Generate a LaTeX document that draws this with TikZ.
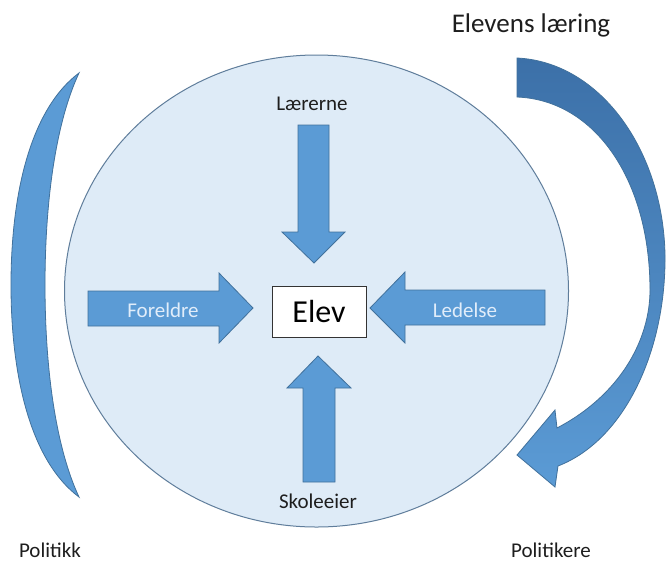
\documentclass[tikz,border=0pt]{standalone}
\usepackage{fontspec}
\setmainfont{Carlito}
\definecolor{circfill}{RGB}{222,235,247}
\definecolor{circline}{RGB}{95,125,155}
\definecolor{arrfill}{RGB}{91,155,213}
\definecolor{arrline}{RGB}{65,113,156}
\definecolor{arrdark}{RGB}{60,112,168}
\definecolor{lighttext}{RGB}{225,237,250}
\definecolor{darktext}{RGB}{30,30,30}
\begin{document}
\begin{tikzpicture}[x=1pt,y=-1pt,
  blockarrow/.style={fill=arrfill,draw=arrline,line width=0.8pt,line join=miter},
  lbl/.style={font=\fontsize{21}{25}\selectfont,text=darktext,inner sep=0pt},
  inlbl/.style={font=\fontsize{21}{25}\selectfont,text=lighttext,inner sep=0pt}]
\useasboundingbox (0,0) rectangle (666,563);
\fill[white] (0,0) rectangle (666,563);

% main circle
\draw[fill=circfill,draw=circline,line width=1pt] (316.5,291) ellipse [x radius=252, y radius=236];

% left crescent
\path[blockarrow] (79,73) .. controls (32,108) and (11,190) .. (11,285)
  .. controls (11,380) and (32,462) .. (79,497)
  .. controls (56,448) and (45,370) .. (45,285)
  .. controls (45,200) and (56,122) .. (79,73) -- cycle;

% right curved arrow
\path[top color=arrdark,bottom color=arrfill,draw=arrline,line width=0.8pt,line join=miter]
  (517,58) .. controls (600,62) and (663,150) .. (665,255)
  .. controls (666,350) and (625,440) .. (558,466)
  -- (555,487) -- (517,455) -- (555,410) -- (557,428)
  .. controls (620,395) and (650,340) .. (650,290)
  .. controls (650,180) and (595,100) .. (517,97) -- cycle;

% four block arrows
\path[blockarrow] (298,125) -- (329,125) -- (329,232) -- (345,232) -- (314,263) -- (282,232) -- (298,232) -- cycle;
\path[blockarrow] (303,482) -- (335,482) -- (335,388) -- (351,388) -- (318,356) -- (287,388) -- (303,388) -- cycle;
\path[blockarrow] (88,291) -- (219,291) -- (219,273) -- (253,308) -- (219,343) -- (219,326) -- (88,326) -- cycle;
\path[blockarrow] (545,290) -- (405,290) -- (405,272) -- (370,308) -- (405,343) -- (405,325) -- (545,325) -- cycle;

% centre box
\node[draw=black!80,fill=white,line width=0.8pt,minimum width=94pt,minimum height=51pt,inner sep=0pt,
  font=\fontsize{32}{36}\selectfont,text=black] (elev) at (319,311.5) {Elev};

% labels
\node[lbl] (laererne) at (312,104) {Lærerne};
\node[lbl] (skoleeier) at (318,501) {Skoleeier};
\node[inlbl] (foreldre) at (163,310) {Foreldre};
\node[inlbl] (ledelse) at (465,310) {Ledelse};
\node[lbl,font=\fontsize{27}{31}\selectfont] (laering) at (531,25) {Elevens læring};
\node[lbl] (politikk) at (50,550) {Politikk};
\node[lbl] (politikere) at (551,550) {Politikere};
\end{tikzpicture}
\end{document}
